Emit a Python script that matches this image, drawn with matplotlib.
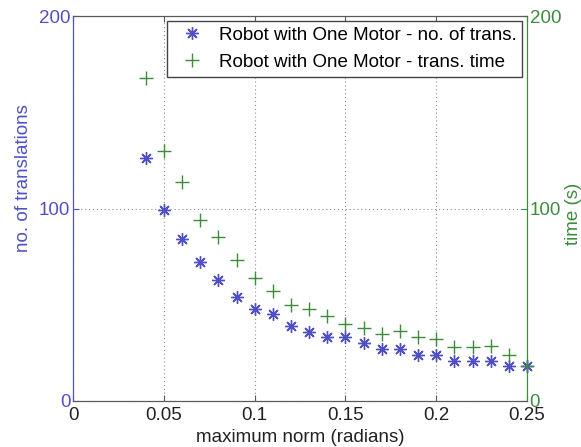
import matplotlib
matplotlib.use('Agg')
import matplotlib.pyplot as plt

plt.rcParams['font.family'] = ['Liberation Sans', 'DejaVu Sans']

BLUE = '#5050c4'
GREEN = '#3c8c3c'
AXIS_GREY = '#5a5a5a'

norm = [0.04, 0.05, 0.06, 0.07, 0.08, 0.09, 0.10, 0.11, 0.12, 0.13, 0.14,
        0.15, 0.16, 0.17, 0.18, 0.19, 0.20, 0.21, 0.22, 0.23, 0.24, 0.25]
n_trans = [126, 99, 84, 72, 63, 54, 48, 45, 39, 36, 33,
           33, 30, 27, 27, 24, 24, 21, 21, 21, 18, 18]
trans_time = [168, 130, 114, 94, 85, 73, 64, 57, 50, 48, 44,
              40, 38, 35, 36.5, 33, 32, 28, 28, 28.5, 24, 18]

x_ticks = [0, 0.05, 0.1, 0.15, 0.2, 0.25]
x_tick_labels = ['0', '0.05', '0.1', '0.15', '0.2', '0.25']
y_ticks = [0, 100, 200]

FS = 13.5

fig = plt.figure(figsize=(5.81, 4.47), dpi=100)
ax = fig.add_axes([0.126, 0.103, 0.781, 0.861])
ax2 = ax.twinx()

# MATLAB-style '*' marker: eight spokes
h1, = ax.plot(norm, n_trans, linestyle='none', marker=(8, 2, 0), markersize=9,
              color=BLUE, markeredgewidth=1.0, clip_on=False, zorder=3,
              label='Robot with One Motor - no. of trans.')
h2, = ax2.plot(norm, trans_time, linestyle='none', marker='+', markersize=10,
               color=GREEN, markeredgewidth=1.0, clip_on=False, zorder=3,
               label='Robot with One Motor - trans. time')

ax.set_xlim(0, 0.25)
ax.set_ylim(0, 200)
ax2.set_ylim(0, 200)
ax.set_xticks(x_ticks)
ax.set_xticklabels(x_tick_labels)
ax.set_yticks(y_ticks)
ax2.set_yticks(y_ticks)

ax.grid(True, linestyle=(0, (1, 2.5)), color='#8c8c8c', linewidth=0.8)

ax.tick_params(axis='x', direction='in', top=True, labelsize=FS,
               colors='#222222', color=AXIS_GREY, length=4, pad=4)
ax.tick_params(axis='y', direction='in', labelsize=FS, colors=BLUE,
               length=4, pad=2)
ax2.tick_params(axis='y', direction='in', labelsize=FS, colors=GREEN,
                length=4, pad=2)

for a in (ax, ax2):
    a.spines['top'].set_color(AXIS_GREY)
    a.spines['bottom'].set_color(AXIS_GREY)
    a.spines['left'].set_color(BLUE)
    a.spines['right'].set_color(GREEN)

ax.set_xlabel('maximum norm (radians)', fontsize=FS, color='#222222', labelpad=4)
ax.set_ylabel('no. of translations', fontsize=FS, color=BLUE)
ax.yaxis.set_label_coords(-0.09, 0.58)
ax2.set_ylabel('time (s)', fontsize=FS, color=GREEN)
ax2.yaxis.set_label_coords(1.083, 0.487)

leg = ax2.legend([h1, h2], [h1.get_label(), h2.get_label()],
                 loc='upper right', fontsize=FS, fancybox=False,
                 framealpha=1, edgecolor='#444444', borderaxespad=0.25,
                 handletextpad=0.45, borderpad=0.3, labelspacing=0.55,
                 handlelength=2.0)
leg.get_frame().set_linewidth(1.0)

fig.savefig('out.png', dpi=100)
